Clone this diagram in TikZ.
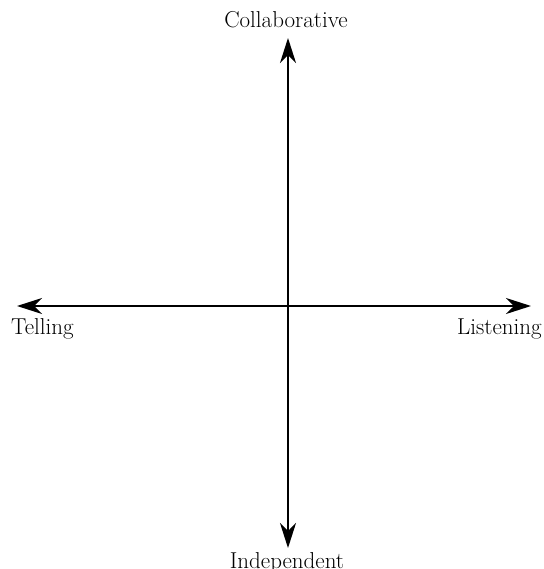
\documentclass[tikz,border=0pt]{standalone}
\usepackage{fontspec}
\usetikzlibrary{arrows.meta,positioning}

\begin{document}
\begin{tikzpicture}[x=1pt,y=-1pt,font=\fontsize{23}{27}\selectfont,
axis/.style={{Stealth[length=25pt,width=16pt,inset=8pt]}-{Stealth[length=25pt,width=16pt,inset=8pt]},line width=1.8pt},
lbl/.style={inner sep=0pt}]
\useasboundingbox (0,0) rectangle (543,569);
\coordinate (west) at (17,306);
\coordinate (east) at (531,306);
\coordinate (north) at (288,38);
\coordinate (south) at (288,548);
\draw[axis] (west)--(east);
\draw[axis] (south)--(north);
\node[lbl,anchor=base] (collab) at (286,28) {Collaborative};
\node[lbl,anchor=base west] (telling) at (11,334) {Telling};
\node[lbl,anchor=base west] (listening) at (457,334) {Listening};
\node[lbl,anchor=base] (indep) at (287,568) {Independent};
\end{tikzpicture}
\end{document}
